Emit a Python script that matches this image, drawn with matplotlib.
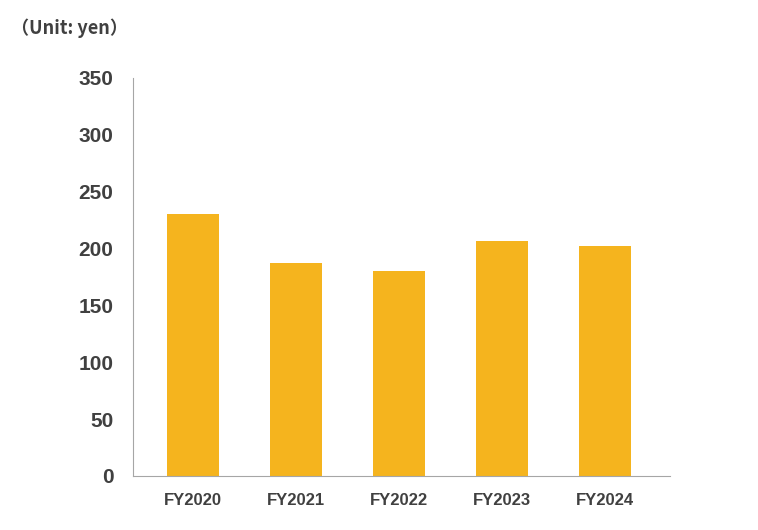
import matplotlib
matplotlib.use("Agg")
import matplotlib.pyplot as plt

categories = ["FY2020", "FY2021", "FY2022", "FY2023", "FY2024"]
values = [230, 187, 180, 207, 202]
yticks = [0, 50, 100, 150, 200, 250, 300, 350]

plt.rcParams['font.family'] = ['Liberation Sans', 'Noto Sans CJK JP']
fig = plt.figure(figsize=(7.58, 5.30), dpi=100)
ax = fig.add_axes([0.1755, 0.102, 0.708, 0.751])
ax.bar(range(len(categories)), values, width=0.5, color="#F5B41E")
ax.set_xlim(-0.58, 4.63)
ax.set_ylim(0, 350)
ax.set_yticks(yticks)
ax.set_xticks(range(len(categories)))
ax.set_xticklabels(categories, fontsize=12, fontweight='bold', color="#404040")
ax.set_yticklabels([str(t) for t in yticks], fontsize=15, fontweight='bold', color="#404040")
ax.tick_params(length=0, pad=14)
ax.tick_params(axis='x', pad=12)
for s in ["top", "right"]:
    ax.spines[s].set_visible(False)
for s in ["left", "bottom"]:
    ax.spines[s].set_color("#A6A6A6")
fig.text(0.015, 0.935, "（Unit: yen）", fontsize=13, fontweight='bold', color="#404040",
         family=['Noto Sans CJK JP', 'DejaVu Sans'])
fig.savefig("out.png", dpi=100)
